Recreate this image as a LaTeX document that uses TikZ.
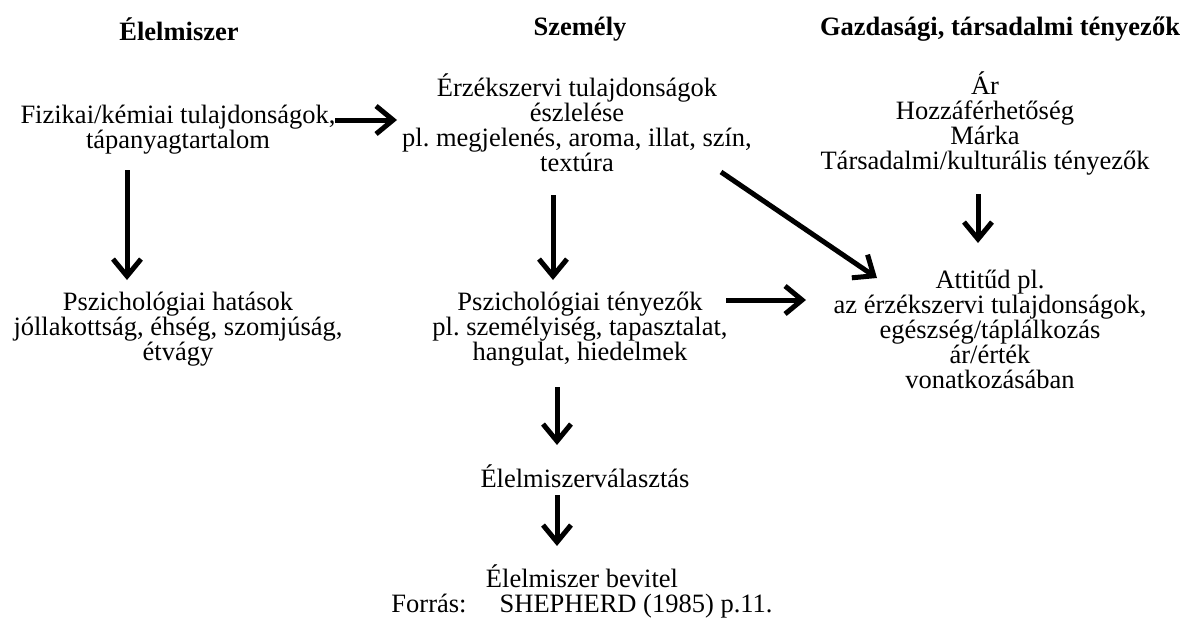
\documentclass[tikz,border=0pt]{standalone}
\usepackage{fontspec}
\setmainfont{Liberation Serif}
\usetikzlibrary{arrows.meta}
\frenchspacing
\begin{document}
\begin{tikzpicture}[x=1pt,y=-1pt,
  txt/.style={align=center,inner sep=0pt,font=\fontsize{26.5}{25}\selectfont},
  hdr/.style={align=center,inner sep=0pt,font=\fontsize{26.5}{25}\selectfont\bfseries},
  arr/.style={line width=5pt,-{Straight Barb[length=17pt,width=28pt]}}]
\useasboundingbox (0,0) rectangle (1191,624);
\node[hdr] (h1) at (179,29) {Élelmiszer};
\node[hdr] (h2) at (580,29) {Személy};
\node[hdr] (h3) at (1000,29) {Gazdasági, társadalmi tényezők};
\node[txt] (A) at (178,130) {Fizikai/kémiai tulajdonságok,\\tápanyagtartalom};
\node[txt] (B) at (577,123) {Érzékszervi tulajdonságok\\észlelése\\pl. megjelenés, aroma, illat, szín,\\textúra};
\node[txt] (C) at (985,123) {Ár\\Hozzáférhetőség\\Márka\\Társadalmi/kulturális tényezők};
\node[txt] (D) at (178,329) {Pszichológiai hatások\\jóllakottság, éhség, szomjúság,\\étvágy};
\node[txt] (E) at (580,329) {Pszichológiai tényezők\\pl. személyiség, tapasztalat,\\hangulat, hiedelmek};
\node[txt] (F) at (990,329) {Attitűd pl.\\az érzékszervi tulajdonságok,\\egészség/táplálkozás\\ár/érték\\vonatkozásában};
\node[txt] (G) at (585,476) {Élelmiszerválasztás};
\node[txt] (H) at (582,591) {Élelmiszer bevitel\\Forrás:\quad\ SHEPHERD (1985) p.11.};
\coordinate (ab1) at (335,120); \coordinate (ab2) at (397,120);
\coordinate (ad1) at (127,170); \coordinate (ad2) at (127,280);
\coordinate (be1) at (553,195); \coordinate (be2) at (553,280);
\coordinate (bf1) at (721,172); \coordinate (bf2) at (877,278);
\coordinate (cf1) at (978,194); \coordinate (cf2) at (978,243);
\coordinate (ef1) at (726,300); \coordinate (ef2) at (806,300);
\coordinate (eg1) at (557,387); \coordinate (eg2) at (557,445);
\coordinate (gh1) at (557,495); \coordinate (gh2) at (557,546);
\draw[arr] (ab1) -- (ab2);
\draw[arr] (ad1) -- (ad2);
\draw[arr] (be1) -- (be2);
\draw[arr] (bf1) -- (bf2);
\draw[arr] (cf1) -- (cf2);
\draw[arr] (ef1) -- (ef2);
\draw[arr] (eg1) -- (eg2);
\draw[arr] (gh1) -- (gh2);
\end{tikzpicture}
\end{document}
